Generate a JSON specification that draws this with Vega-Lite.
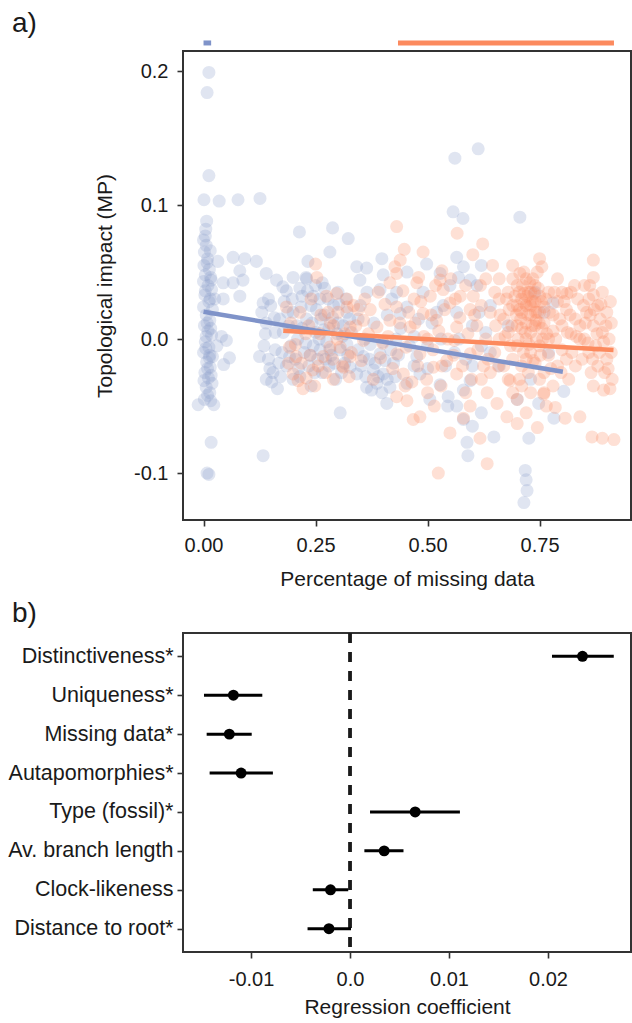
{
"$schema":"https://vega.github.io/schema/vega-lite/v6.json",
"padding":{"left":6,"top":9,"right":0,"bottom":0},
"spacing":8,
"config":{"font":"Liberation Sans","view":{"stroke":"#333333","strokeWidth":2},
"axis":{"grid":false,"domain":false,"tickColor":"#333333","tickWidth":1.6,"tickSize":6,"labelFontSize":20,"labelColor":"#1a1a1a","titleFontSize":21,"titleFontWeight":"normal","titleColor":"#1a1a1a","labelPadding":5},
"title":{"fontSize":28,"fontWeight":"normal","color":"#1a1a1a","anchor":"start","frame":"group"}},
"datasets":{
"pts":[
{"g":"A","x":0.012,"y":0.199},{"g":"A","x":0.008,"y":0.184},{"g":"A","x":0.012,"y":0.122},{"g":"A","x":0.001,"y":0.104},{"g":"A","x":0.007,"y":0.088},{"g":"A","x":0.004,"y":0.077},{"g":"A","x":0.0,"y":0.074},{"g":"A","x":0.006,"y":0.070},{"g":"A","x":0.002,"y":0.065},{"g":"A","x":0.009,"y":0.060},{"g":"A","x":0.001,"y":0.055},{"g":"A","x":0.013,"y":0.052},{"g":"A","x":0.004,"y":0.048},{"g":"A","x":0.0,"y":0.043},{"g":"A","x":0.01,"y":0.040},{"g":"A","x":0.018,"y":0.037},{"g":"A","x":0.003,"y":0.033},{"g":"A","x":0.012,"y":0.028},{"g":"A","x":0.0,"y":0.024},{"g":"A","x":0.02,"y":0.022},{"g":"A","x":0.006,"y":0.018},{"g":"A","x":0.014,"y":0.014},{"g":"A","x":0.002,"y":0.010},{"g":"A","x":0.01,"y":0.006},{"g":"A","x":0.018,"y":0.003},{"g":"A","x":0.004,"y":-0.002},{"g":"A","x":0.012,"y":-0.006},{"g":"A","x":0.0,"y":-0.010},{"g":"A","x":0.02,"y":-0.013},{"g":"A","x":0.007,"y":-0.017},{"g":"A","x":0.015,"y":-0.021},{"g":"A","x":0.003,"y":-0.025},{"g":"A","x":0.011,"y":-0.029},{"g":"A","x":0.019,"y":-0.033},{"g":"A","x":0.006,"y":-0.036},{"g":"A","x":0.014,"y":-0.040},{"g":"A","x":0.002,"y":-0.045},{"g":"A","x":0.016,"y":-0.046},{"g":"A","x":-0.012,"y":-0.049},{"g":"A","x":0.023,"y":-0.049},{"g":"A","x":0.017,"y":-0.077},{"g":"A","x":0.008,"y":-0.100},{"g":"A","x":0.012,"y":-0.101},{"g":"A","x":0.017,"y":0.044},{"g":"A","x":0.04,"y":0.002},{"g":"A","x":0.045,"y":-0.019},{"g":"A","x":0.025,"y":0.030},{"g":"A","x":0.03,"y":-0.005},
{"g":"A","x":0.005,"y":0.082},{"g":"A","x":0.015,"y":0.066},{"g":"A","x":0.008,"y":0.057},{"g":"A","x":0.016,"y":0.046},{"g":"A","x":0.004,"y":0.036},{"g":"A","x":0.015,"y":0.030},{"g":"A","x":0.008,"y":0.012},{"g":"A","x":0.016,"y":0.008},{"g":"A","x":0.005,"y":-0.007},{"g":"A","x":0.013,"y":-0.014},{"g":"A","x":0.009,"y":-0.022},{"g":"A","x":0.017,"y":-0.027},{"g":"A","x":0.001,"y":-0.031},{"g":"A","x":0.009,"y":-0.042},{"g":"A","x":0.014,"y":-0.012},{"g":"A","x":0.006,"y":0.002},
{"g":"A","x":0.035,"y":0.103},{"g":"A","x":0.077,"y":0.104},{"g":"A","x":0.126,"y":0.105},{"g":"A","x":0.214,"y":0.080},{"g":"A","x":0.032,"y":0.058},{"g":"A","x":0.066,"y":0.061},{"g":"A","x":0.092,"y":0.060},{"g":"A","x":0.118,"y":0.058},{"g":"A","x":0.140,"y":0.049},{"g":"A","x":0.081,"y":0.051},{"g":"A","x":0.066,"y":0.042},{"g":"A","x":0.088,"y":0.044},{"g":"A","x":0.044,"y":0.030},{"g":"A","x":0.081,"y":0.032},{"g":"A","x":0.051,"y":-0.001},{"g":"A","x":0.058,"y":-0.014},{"g":"A","x":0.125,"y":-0.013},{"g":"A","x":0.133,"y":0.027},{"g":"A","x":0.163,"y":0.044},{"g":"A","x":0.177,"y":0.039},{"g":"A","x":0.200,"y":0.046},{"g":"A","x":0.229,"y":0.046},{"g":"A","x":0.233,"y":0.058},{"g":"A","x":0.288,"y":0.083},{"g":"A","x":0.282,"y":0.065},{"g":"A","x":0.044,"y":0.042},{"g":"A","x":0.133,"y":-0.087},{"g":"A","x":0.323,"y":0.075},{"g":"A","x":0.305,"y":-0.055},
{"g":"A","x":0.13,"y":0.020},{"g":"A","x":0.14,"y":0.012},{"g":"A","x":0.15,"y":0.025},{"g":"A","x":0.16,"y":0.005},{"g":"A","x":0.135,"y":-0.005},{"g":"A","x":0.145,"y":-0.015},{"g":"A","x":0.155,"y":-0.025},{"g":"A","x":0.14,"y":-0.030},{"g":"A","x":0.165,"y":-0.037},{"g":"A","x":0.17,"y":0.015},{"g":"A","x":0.18,"y":0.028},{"g":"A","x":0.19,"y":0.010},{"g":"A","x":0.2,"y":0.020},{"g":"A","x":0.21,"y":0.000},{"g":"A","x":0.22,"y":0.032},{"g":"A","x":0.23,"y":0.015},{"g":"A","x":0.24,"y":0.025},{"g":"A","x":0.25,"y":0.005},{"g":"A","x":0.26,"y":0.030},{"g":"A","x":0.27,"y":0.018},{"g":"A","x":0.28,"y":0.008},{"g":"A","x":0.29,"y":0.025},{"g":"A","x":0.3,"y":0.012},{"g":"A","x":0.31,"y":0.002},{"g":"A","x":0.32,"y":0.020},{"g":"A","x":0.175,"y":-0.010},{"g":"A","x":0.185,"y":-0.020},{"g":"A","x":0.195,"y":-0.005},{"g":"A","x":0.205,"y":-0.015},{"g":"A","x":0.215,"y":-0.028},{"g":"A","x":0.225,"y":-0.010},{"g":"A","x":0.235,"y":-0.020},{"g":"A","x":0.245,"y":-0.005},{"g":"A","x":0.255,"y":-0.015},{"g":"A","x":0.265,"y":-0.025},{"g":"A","x":0.275,"y":-0.002},{"g":"A","x":0.285,"y":-0.012},{"g":"A","x":0.295,"y":-0.030},{"g":"A","x":0.305,"y":-0.008},{"g":"A","x":0.315,"y":-0.018},{"g":"A","x":0.25,"y":0.040},{"g":"A","x":0.27,"y":0.038},{"g":"A","x":0.23,"y":0.045},{"g":"A","x":0.3,"y":0.035},{"g":"A","x":0.2,"y":-0.030},{"g":"A","x":0.24,"y":-0.035},{"g":"A","x":0.26,"y":-0.008},{"g":"A","x":0.22,"y":0.008},{"g":"A","x":0.28,"y":-0.020},{"g":"A","x":0.32,"y":-0.004},
{"g":"A","x":0.138,"y":0.004},{"g":"A","x":0.148,"y":-0.022},{"g":"A","x":0.152,"y":-0.032},{"g":"A","x":0.158,"y":0.016},{"g":"A","x":0.168,"y":-0.018},{"g":"A","x":0.172,"y":-0.028},{"g":"A","x":0.178,"y":0.005},{"g":"A","x":0.188,"y":0.020},{"g":"A","x":0.192,"y":-0.013},{"g":"A","x":0.198,"y":0.030},{"g":"A","x":0.208,"y":0.010},{"g":"A","x":0.212,"y":-0.022},{"g":"A","x":0.218,"y":0.024},{"g":"A","x":0.228,"y":-0.003},{"g":"A","x":0.232,"y":0.036},{"g":"A","x":0.238,"y":-0.012},{"g":"A","x":0.242,"y":0.012},{"g":"A","x":0.248,"y":-0.025},{"g":"A","x":0.252,"y":0.022},{"g":"A","x":0.258,"y":0.000},{"g":"A","x":0.262,"y":0.015},{"g":"A","x":0.268,"y":0.007},{"g":"A","x":0.272,"y":-0.015},{"g":"A","x":0.278,"y":0.030},{"g":"A","x":0.282,"y":-0.008},{"g":"A","x":0.288,"y":0.016},{"g":"A","x":0.292,"y":-0.018},{"g":"A","x":0.298,"y":0.004},{"g":"A","x":0.302,"y":0.026},{"g":"A","x":0.308,"y":-0.025},{"g":"A","x":0.312,"y":0.010},{"g":"A","x":0.318,"y":0.030},{"g":"A","x":0.322,"y":-0.012},{"g":"A","x":0.326,"y":0.015},{"g":"A","x":0.265,"y":0.042},{"g":"A","x":0.245,"y":0.032},{"g":"A","x":0.215,"y":0.038},{"g":"A","x":0.185,"y":0.036},{"g":"A","x":0.16,"y":-0.008},{"g":"A","x":0.145,"y":0.03},
{"g":"A","x":0.342,"y":0.054},{"g":"A","x":0.364,"y":0.053},{"g":"A","x":0.349,"y":0.044},{"g":"A","x":0.398,"y":0.060},{"g":"A","x":0.401,"y":0.048},{"g":"A","x":0.431,"y":0.035},{"g":"A","x":0.454,"y":0.050},{"g":"A","x":0.394,"y":0.037},{"g":"A","x":0.498,"y":0.056},{"g":"A","x":0.528,"y":0.049},{"g":"A","x":0.565,"y":0.061},{"g":"A","x":0.58,"y":0.054},{"g":"A","x":0.569,"y":0.046},{"g":"A","x":0.595,"y":0.044},{"g":"A","x":0.454,"y":0.024},{"g":"A","x":0.439,"y":0.019},
{"g":"A","x":0.357,"y":-0.013},{"g":"A","x":0.379,"y":-0.023},{"g":"A","x":0.401,"y":-0.026},{"g":"A","x":0.364,"y":-0.036},{"g":"A","x":0.387,"y":-0.033},{"g":"A","x":0.416,"y":-0.036},{"g":"A","x":0.342,"y":-0.026},{"g":"A","x":0.327,"y":-0.021},{"g":"A","x":0.409,"y":-0.048},{"g":"A","x":0.424,"y":-0.018},{"g":"A","x":0.37,"y":-0.015},{"g":"A","x":0.394,"y":-0.011},{"g":"A","x":0.454,"y":-0.033},{"g":"A","x":0.483,"y":-0.026},{"g":"A","x":0.50,"y":-0.022},{"g":"A","x":0.528,"y":-0.034},{"g":"A","x":0.546,"y":-0.043},{"g":"A","x":0.58,"y":-0.038},{"g":"A","x":0.595,"y":-0.031},{"g":"A","x":0.476,"y":-0.013},{"g":"A","x":0.47,"y":-0.02},
{"g":"A","x":0.345,"y":-0.008},{"g":"A","x":0.352,"y":-0.02},{"g":"A","x":0.362,"y":-0.028},{"g":"A","x":0.372,"y":-0.004},{"g":"A","x":0.375,"y":-0.038},{"g":"A","x":0.383,"y":-0.018},{"g":"A","x":0.39,"y":-0.028},{"g":"A","x":0.398,"y":-0.04},{"g":"A","x":0.405,"y":-0.016},{"g":"A","x":0.41,"y":-0.03},{"g":"A","x":0.418,"y":-0.008},{"g":"A","x":0.428,"y":-0.028},{"g":"A","x":0.435,"y":-0.012},{"g":"A","x":0.38,"y":0.012},{"g":"A","x":0.41,"y":0.018},{"g":"A","x":0.345,"y":0.015},{"g":"A","x":0.365,"y":0.035},{"g":"A","x":0.43,"y":0.0},
{"g":"A","x":0.33,"y":0.005},{"g":"A","x":0.36,"y":0.0},{"g":"A","x":0.4,"y":-0.002},{"g":"A","x":0.44,"y":0.008},{"g":"A","x":0.47,"y":0.002},{"g":"A","x":0.5,"y":-0.005},{"g":"A","x":0.53,"y":0.0},{"g":"A","x":0.56,"y":-0.01},{"g":"A","x":0.6,"y":0.01},{"g":"A","x":0.62,"y":-0.005},{"g":"A","x":0.48,"y":0.015},{"g":"A","x":0.52,"y":0.02},{"g":"A","x":0.35,"y":0.025},{"g":"A","x":0.42,"y":0.03},
{"g":"A","x":0.49,"y":0.035},{"g":"A","x":0.51,"y":0.012},{"g":"A","x":0.535,"y":0.025},{"g":"A","x":0.565,"y":0.02},{"g":"A","x":0.585,"y":-0.015},{"g":"A","x":0.615,"y":0.02},{"g":"A","x":0.505,"y":-0.045},{"g":"A","x":0.565,"y":-0.05},{"g":"A","x":0.62,"y":0.055},
{"g":"A","x":0.557,"y":0.095},{"g":"A","x":0.579,"y":0.090},{"g":"A","x":0.561,"y":0.135},{"g":"A","x":0.613,"y":0.142},{"g":"A","x":0.46,"y":-0.005},{"g":"A","x":0.54,"y":-0.02},{"g":"A","x":0.57,"y":0.0},{"g":"A","x":0.55,"y":0.04},{"g":"A","x":0.61,"y":0.04},{"g":"A","x":0.63,"y":0.005},{"g":"A","x":0.64,"y":-0.01},{"g":"A","x":0.6,"y":-0.02},
{"g":"A","x":0.706,"y":0.091},{"g":"A","x":0.78,"y":0.027},{"g":"A","x":0.76,"y":0.02},{"g":"A","x":0.62,"y":-0.055},{"g":"A","x":0.648,"y":-0.073},{"g":"A","x":0.726,"y":-0.074},{"g":"A","x":0.718,"y":-0.098},{"g":"A","x":0.722,"y":-0.113},{"g":"A","x":0.715,"y":-0.122},{"g":"A","x":0.72,"y":-0.105},{"g":"A","x":0.782,"y":-0.059},{"g":"A","x":0.804,"y":-0.039},{"g":"A","x":0.748,"y":-0.048},{"g":"A","x":0.70,"y":-0.045},{"g":"A","x":0.68,"y":0.01},{"g":"A","x":0.74,"y":0.035},{"g":"A","x":0.64,"y":0.025},{"g":"A","x":0.66,"y":-0.02},{"g":"A","x":0.77,"y":-0.01},{"g":"A","x":0.58,"y":-0.06},{"g":"A","x":0.59,"y":-0.087},{"g":"A","x":0.588,"y":-0.077},{"g":"A","x":0.60,"y":-0.065},{"g":"A","x":0.545,"y":-0.05},{"g":"A","x":0.73,"y":-0.03},
{"g":"B","x":0.431,"y":0.084},{"g":"B","x":0.448,"y":0.067},{"g":"B","x":0.49,"y":0.065},{"g":"B","x":0.566,"y":0.079},{"g":"B","x":0.623,"y":0.071},{"g":"B","x":0.601,"y":0.063},{"g":"B","x":0.706,"y":0.049},{"g":"B","x":0.755,"y":0.054},{"g":"B","x":0.87,"y":0.059},{"g":"B","x":0.87,"y":0.046},{"g":"B","x":0.87,"y":0.033},{"g":"B","x":0.532,"y":0.051},{"g":"B","x":0.427,"y":0.054},{"g":"B","x":0.48,"y":0.046},{"g":"B","x":0.25,"y":0.056},{"g":"B","x":0.253,"y":0.046},
{"g":"B","x":0.185,"y":0.024},{"g":"B","x":0.192,"y":-0.006},{"g":"B","x":0.207,"y":-0.013},{"g":"B","x":0.2,"y":-0.026},{"g":"B","x":0.211,"y":-0.031},{"g":"B","x":0.229,"y":-0.029},{"g":"B","x":0.244,"y":-0.023},{"g":"B","x":0.222,"y":-0.037},{"g":"B","x":0.267,"y":-0.013},{"g":"B","x":0.282,"y":-0.006},{"g":"B","x":0.26,"y":0.004},{"g":"B","x":0.274,"y":0.032},{"g":"B","x":0.3,"y":0.02},{"g":"B","x":0.31,"y":-0.02},{"g":"B","x":0.32,"y":0.03},{"g":"B","x":0.29,"y":-0.03},{"g":"B","x":0.235,"y":0.01},{"g":"B","x":0.215,"y":0.02},{"g":"B","x":0.33,"y":-0.01},{"g":"B","x":0.34,"y":0.01},{"g":"B","x":0.29,"y":0.01},
{"g":"B","x":0.195,"y":0.012},{"g":"B","x":0.205,"y":-0.004},{"g":"B","x":0.218,"y":-0.018},{"g":"B","x":0.228,"y":0.004},{"g":"B","x":0.238,"y":-0.012},{"g":"B","x":0.248,"y":-0.035},{"g":"B","x":0.256,"y":-0.02},{"g":"B","x":0.262,"y":0.018},{"g":"B","x":0.272,"y":-0.025},{"g":"B","x":0.278,"y":0.02},{"g":"B","x":0.288,"y":-0.015},{"g":"B","x":0.298,"y":0.0},{"g":"B","x":0.315,"y":0.004},{"g":"B","x":0.325,"y":-0.028},{"g":"B","x":0.335,"y":0.025},{"g":"B","x":0.24,"y":0.03},{"g":"B","x":0.19,"y":-0.018},
{"g":"B","x":0.297,"y":0.034},{"g":"B","x":0.32,"y":0.024},{"g":"B","x":0.283,"y":0.012},{"g":"B","x":0.327,"y":0.009},{"g":"B","x":0.357,"y":0.014},{"g":"B","x":0.387,"y":0.009},{"g":"B","x":0.416,"y":0.014},{"g":"B","x":0.431,"y":0.024},{"g":"B","x":0.461,"y":0.009},{"g":"B","x":0.49,"y":0.019},{"g":"B","x":0.506,"y":0.032},{"g":"B","x":0.535,"y":0.037},{"g":"B","x":0.55,"y":0.027},{"g":"B","x":0.573,"y":0.032},{"g":"B","x":0.595,"y":0.022},{"g":"B","x":0.602,"y":0.032},{"g":"B","x":0.52,"y":0.014},{"g":"B","x":0.565,"y":0.009},{"g":"B","x":0.528,"y":0.044},{"g":"B","x":0.476,"y":0.042},{"g":"B","x":0.431,"y":0.049},{"g":"B","x":0.439,"y":0.059},{"g":"B","x":0.416,"y":0.042},{"g":"B","x":0.305,"y":-0.006},{"g":"B","x":0.327,"y":-0.013},{"g":"B","x":0.312,"y":-0.021},{"g":"B","x":0.431,"y":-0.011},{"g":"B","x":0.446,"y":-0.026},{"g":"B","x":0.483,"y":-0.011},{"g":"B","x":0.513,"y":-0.021},{"g":"B","x":0.543,"y":-0.016},{"g":"B","x":0.565,"y":-0.026},{"g":"B","x":0.595,"y":-0.011},{"g":"B","x":0.454,"y":-0.046},{"g":"B","x":0.468,"y":-0.060},{"g":"B","x":0.483,"y":-0.058},{"g":"B","x":0.55,"y":-0.07},{"g":"B","x":0.524,"y":-0.1},{"g":"B","x":0.58,"y":-0.059},{"g":"B","x":0.595,"y":-0.05},{"g":"B","x":0.431,"y":-0.043},{"g":"B","x":0.357,"y":-0.001},{"g":"B","x":0.4,"y":-0.003},{"g":"B","x":0.56,"y":-0.001},{"g":"B","x":0.379,"y":-0.03},{"g":"B","x":0.36,"y":0.03},{"g":"B","x":0.39,"y":0.035},{"g":"B","x":0.47,"y":0.03},{"g":"B","x":0.5,"y":0.0},{"g":"B","x":0.53,"y":-0.035},{"g":"B","x":0.5,"y":-0.04},
{"g":"B","x":0.345,"y":0.022},{"g":"B","x":0.352,"y":-0.016},{"g":"B","x":0.368,"y":0.004},{"g":"B","x":0.372,"y":0.022},{"g":"B","x":0.395,"y":-0.014},{"g":"B","x":0.405,"y":0.026},{"g":"B","x":0.412,"y":0.002},{"g":"B","x":0.422,"y":-0.022},{"g":"B","x":0.438,"y":0.012},{"g":"B","x":0.445,"y":0.036},{"g":"B","x":0.452,"y":-0.006},{"g":"B","x":0.458,"y":0.02},{"g":"B","x":0.465,"y":-0.032},{"g":"B","x":0.472,"y":0.012},{"g":"B","x":0.478,"y":-0.02},{"g":"B","x":0.485,"y":0.028},{"g":"B","x":0.492,"y":0.002},{"g":"B","x":0.498,"y":-0.03},{"g":"B","x":0.508,"y":0.018},{"g":"B","x":0.512,"y":-0.008},{"g":"B","x":0.518,"y":0.04},{"g":"B","x":0.525,"y":0.006},{"g":"B","x":0.532,"y":-0.02},{"g":"B","x":0.538,"y":0.022},{"g":"B","x":0.545,"y":0.0},{"g":"B","x":0.552,"y":0.045},{"g":"B","x":0.558,"y":-0.012},{"g":"B","x":0.562,"y":0.03},{"g":"B","x":0.572,"y":0.016},{"g":"B","x":0.578,"y":-0.02},{"g":"B","x":0.585,"y":0.04},{"g":"B","x":0.59,"y":0.004},{"g":"B","x":0.598,"y":-0.03},{"g":"B","x":0.605,"y":0.018},{"g":"B","x":0.612,"y":-0.008},{"g":"B","x":0.618,"y":0.04},{"g":"B","x":0.625,"y":-0.02},{"g":"B","x":0.585,"y":-0.04},{"g":"B","x":0.515,"y":-0.05},{"g":"B","x":0.45,"y":-0.035},
{"g":"B","x":0.64,"y":0.02},{"g":"B","x":0.65,"y":-0.01},{"g":"B","x":0.66,"y":0.03},{"g":"B","x":0.66,"y":0.0},{"g":"B","x":0.67,"y":-0.02},{"g":"B","x":0.67,"y":0.015},{"g":"B","x":0.68,"y":0.035},{"g":"B","x":0.68,"y":0.005},{"g":"B","x":0.69,"y":-0.015},{"g":"B","x":0.69,"y":0.025},{"g":"B","x":0.7,"y":0.04},{"g":"B","x":0.7,"y":0.01},{"g":"B","x":0.7,"y":-0.005},{"g":"B","x":0.71,"y":0.03},{"g":"B","x":0.71,"y":-0.02},{"g":"B","x":0.71,"y":0.02},{"g":"B","x":0.72,"y":0.045},{"g":"B","x":0.72,"y":0.0},{"g":"B","x":0.72,"y":0.025},{"g":"B","x":0.72,"y":0.012},{"g":"B","x":0.73,"y":0.035},{"g":"B","x":0.73,"y":-0.01},{"g":"B","x":0.73,"y":0.018},{"g":"B","x":0.73,"y":0.005},{"g":"B","x":0.74,"y":0.028},{"g":"B","x":0.74,"y":-0.018},{"g":"B","x":0.74,"y":0.04},{"g":"B","x":0.74,"y":0.01},{"g":"B","x":0.75,"y":0.02},{"g":"B","x":0.75,"y":-0.005},{"g":"B","x":0.75,"y":0.032},{"g":"B","x":0.76,"y":0.012},{"g":"B","x":0.76,"y":-0.025},{"g":"B","x":0.76,"y":0.024},{"g":"B","x":0.77,"y":0.0},{"g":"B","x":0.77,"y":0.035},{"g":"B","x":0.77,"y":-0.012},{"g":"B","x":0.78,"y":0.018},{"g":"B","x":0.78,"y":0.006},{"g":"B","x":0.79,"y":-0.02},{"g":"B","x":0.79,"y":0.028},{"g":"B","x":0.8,"y":0.01},{"g":"B","x":0.8,"y":-0.008},{"g":"B","x":0.81,"y":0.022},{"g":"B","x":0.81,"y":-0.015},{"g":"B","x":0.82,"y":0.004},{"g":"B","x":0.83,"y":0.015},{"g":"B","x":0.83,"y":-0.02},{"g":"B","x":0.69,"y":0.045},{"g":"B","x":0.715,"y":0.05},{"g":"B","x":0.705,"y":-0.03},{"g":"B","x":0.725,"y":-0.025},{"g":"B","x":0.745,"y":0.05},{"g":"B","x":0.68,"y":-0.03},{"g":"B","x":0.66,"y":0.045},{"g":"B","x":0.65,"y":0.035},{"g":"B","x":0.63,"y":0.0},{"g":"B","x":0.62,"y":0.025},{"g":"B","x":0.61,"y":0.01},{"g":"B","x":0.635,"y":-0.015},{"g":"B","x":0.62,"y":-0.03},{"g":"B","x":0.64,"y":-0.025},{"g":"B","x":0.8,"y":0.035},{"g":"B","x":0.79,"y":0.045},{"g":"B","x":0.82,"y":0.035},{"g":"B","x":0.835,"y":0.03},{"g":"B","x":0.815,"y":-0.03},{"g":"B","x":0.78,"y":-0.035},{"g":"B","x":0.76,"y":-0.04},{"g":"B","x":0.73,"y":-0.04},{"g":"B","x":0.7,"y":-0.045},{"g":"B","x":0.75,"y":-0.03},{"g":"B","x":0.7,"y":0.025},{"g":"B","x":0.735,"y":0.028},{"g":"B","x":0.71,"y":0.008},{"g":"B","x":0.755,"y":0.008},{"g":"B","x":0.725,"y":0.035},{"g":"B","x":0.745,"y":0.02},
{"g":"B","x":0.695,"y":0.032},{"g":"B","x":0.698,"y":0.018},{"g":"B","x":0.702,"y":0.0},{"g":"B","x":0.705,"y":0.035},{"g":"B","x":0.708,"y":0.015},{"g":"B","x":0.712,"y":0.04},{"g":"B","x":0.714,"y":-0.01},{"g":"B","x":0.716,"y":0.027},{"g":"B","x":0.718,"y":0.005},{"g":"B","x":0.722,"y":0.032},{"g":"B","x":0.724,"y":0.018},{"g":"B","x":0.726,"y":-0.004},{"g":"B","x":0.728,"y":0.042},{"g":"B","x":0.731,"y":0.025},{"g":"B","x":0.733,"y":0.01},{"g":"B","x":0.736,"y":-0.016},{"g":"B","x":0.738,"y":0.034},{"g":"B","x":0.741,"y":0.02},{"g":"B","x":0.743,"y":0.0},{"g":"B","x":0.747,"y":0.038},{"g":"B","x":0.749,"y":0.012},{"g":"B","x":0.752,"y":-0.012},{"g":"B","x":0.754,"y":0.028},{"g":"B","x":0.757,"y":0.0},{"g":"B","x":0.688,"y":0.01},{"g":"B","x":0.685,"y":-0.005},{"g":"B","x":0.682,"y":0.022},{"g":"B","x":0.676,"y":0.03},{"g":"B","x":0.673,"y":0.002},{"g":"B","x":0.662,"y":0.018},{"g":"B","x":0.658,"y":-0.02},{"g":"B","x":0.652,"y":0.01},{"g":"B","x":0.764,"y":0.03},{"g":"B","x":0.766,"y":0.004},{"g":"B","x":0.772,"y":0.02},{"g":"B","x":0.775,"y":-0.022},{"g":"B","x":0.783,"y":0.035},{"g":"B","x":0.786,"y":0.0},{"g":"B","x":0.795,"y":0.015},{"g":"B","x":0.798,"y":-0.025},{"g":"B","x":0.805,"y":0.028},{"g":"B","x":0.812,"y":0.005},{"g":"B","x":0.818,"y":0.018},{"g":"B","x":0.822,"y":-0.01},{"g":"B","x":0.828,"y":0.04},{"g":"B","x":0.832,"y":0.002},{"g":"B","x":0.72,"y":-0.015},{"g":"B","x":0.735,"y":0.045},{"g":"B","x":0.705,"y":0.022},{"g":"B","x":0.715,"y":0.034},{"g":"B","x":0.728,"y":0.026},{"g":"B","x":0.742,"y":0.014},{"g":"B","x":0.71,"y":-0.035},{"g":"B","x":0.69,"y":-0.04},{"g":"B","x":0.765,"y":-0.05},{"g":"B","x":0.72,"y":-0.055},{"g":"B","x":0.69,"y":0.055},{"g":"B","x":0.75,"y":0.06},{"g":"B","x":0.63,"y":0.045},{"g":"B","x":0.645,"y":0.055},
{"g":"B","x":0.633,"y":-0.040},{"g":"B","x":0.655,"y":-0.048},{"g":"B","x":0.684,"y":-0.031},{"g":"B","x":0.759,"y":-0.041},{"g":"B","x":0.677,"y":-0.058},{"g":"B","x":0.70,"y":-0.063},{"g":"B","x":0.745,"y":-0.066},{"g":"B","x":0.785,"y":-0.051},{"g":"B","x":0.807,"y":-0.059},{"g":"B","x":0.84,"y":-0.058},{"g":"B","x":0.617,"y":-0.074},{"g":"B","x":0.633,"y":-0.093},{"g":"B","x":0.907,"y":-0.037},{"g":"B","x":0.867,"y":-0.073},{"g":"B","x":0.89,"y":-0.074},{"g":"B","x":0.916,"y":-0.075},
{"g":"B","x":0.85,"y":0.0},{"g":"B","x":0.86,"y":-0.01},{"g":"B","x":0.87,"y":0.01},{"g":"B","x":0.88,"y":-0.02},{"g":"B","x":0.89,"y":0.005},{"g":"B","x":0.9,"y":-0.015},{"g":"B","x":0.855,"y":0.02},{"g":"B","x":0.875,"y":-0.005},{"g":"B","x":0.885,"y":0.015},{"g":"B","x":0.895,"y":-0.025},{"g":"B","x":0.905,"y":0.0},{"g":"B","x":0.865,"y":-0.025},{"g":"B","x":0.91,"y":-0.01},{"g":"B","x":0.88,"y":0.025},{"g":"B","x":0.86,"y":0.03},{"g":"B","x":0.84,"y":0.01},{"g":"B","x":0.845,"y":-0.015},{"g":"B","x":0.9,"y":0.02},{"g":"B","x":0.87,"y":-0.035},{"g":"B","x":0.89,"y":0.035},{"g":"B","x":0.85,"y":0.04},{"g":"B","x":0.91,"y":0.012},{"g":"B","x":0.811,"y":0.034},{"g":"B","x":0.84,"y":0.0},
{"g":"B","x":0.852,"y":0.012},{"g":"B","x":0.858,"y":-0.003},{"g":"B","x":0.863,"y":0.018},{"g":"B","x":0.868,"y":-0.015},{"g":"B","x":0.872,"y":0.022},{"g":"B","x":0.878,"y":0.004},{"g":"B","x":0.883,"y":-0.01},{"g":"B","x":0.887,"y":0.026},{"g":"B","x":0.893,"y":-0.002},{"g":"B","x":0.898,"y":0.01},{"g":"B","x":0.903,"y":-0.022},{"g":"B","x":0.908,"y":0.028},{"g":"B","x":0.862,"y":0.04},{"g":"B","x":0.848,"y":0.025},{"g":"B","x":0.893,"y":-0.038},{"g":"B","x":0.912,"y":-0.03}
],
"fits":[{"g":"A","x":0.0,"y":0.0204},{"g":"A","x":0.802,"y":-0.0244},{"g":"B","x":0.178,"y":0.0062},{"g":"B","x":0.915,"y":-0.0082}],
"ranges":[{"g":"A","lo":0.0,"hi":0.017,"y":0.221},{"g":"B","lo":0.434,"hi":0.916,"y":0.221}],
"coef":[
{"term":"Distinctiveness*","est":0.02348,"lo":0.0204,"hi":0.02664},
{"term":"Uniqueness*","est":-0.01178,"lo":-0.01475,"hi":-0.00886},
{"term":"Missing data*","est":-0.01219,"lo":-0.01448,"hi":-0.00993},
{"term":"Autapomorphies*","est":-0.0110,"lo":-0.01418,"hi":-0.00779},
{"term":"Type (fossil)*","est":0.00658,"lo":0.00202,"hi":0.0111},
{"term":"Av. branch length","est":0.00345,"lo":0.00145,"hi":0.0054},
{"term":"Clock-likeness","est":-0.00197,"lo":-0.00376,"hi":-0.00018},
{"term":"Distance to root*","est":-0.00213,"lo":-0.00429,"hi":0.0001}
]},
"vconcat":[
{"title":{"text":"a)","dx":-171,"offset":2},
"width":448,"height":469,
"layer":[
{"data":{"name":"pts"},"mark":{"type":"circle","size":170,"opacity":0.27},
"encoding":{
"x":{"field":"x","type":"quantitative","scale":{"domain":[-0.0458,0.954],"nice":false,"zero":false},"axis":{"title":"Percentage of missing data","values":[0,0.25,0.5,0.75],"format":".2f","labelPadding":9,"titlePadding":13}},
"y":{"field":"y","type":"quantitative","scale":{"domain":[-0.135,0.215],"nice":false,"zero":false},"axis":{"title":"Topological impact (MP)","values":[-0.1,0,0.1,0.2],"labelExpr":"replace(format(datum.value,'.1f'),'\u2212','-')","labelPadding":9,"titlePadding":18}},
"color":{"field":"g","type":"nominal","scale":{"domain":["A","B"],"range":["#8da0cb","#fc8d62"]},"legend":null}}},
{"data":{"name":"fits"},"mark":{"type":"line","strokeWidth":4.5},
"encoding":{"x":{"field":"x","type":"quantitative"},"y":{"field":"y","type":"quantitative"},"detail":{"field":"g"},
"stroke":{"field":"g","type":"nominal","scale":{"domain":["A","B"],"range":["#7f93c9","#fc8a5e"]},"legend":null}}},
{"data":{"name":"ranges"},"mark":{"type":"rule","strokeWidth":5},
"encoding":{"x":{"field":"lo","type":"quantitative"},"x2":{"field":"hi"},"y":{"field":"y","type":"quantitative"},
"stroke":{"field":"g","type":"nominal","scale":{"domain":["A","B"],"range":["#7f93c9","#fc8a5e"]},"legend":null}}}
]},
{"title":{"text":"b)","dx":-171,"offset":4},
"width":448,"height":319,
"data":{"name":"coef"},
"encoding":{"y":{"field":"term","type":"nominal","sort":null,"scale":{"type":"point","padding":0.6},"axis":{"title":null,"labelFontSize":21.5,"labelPadding":4}}},
"layer":[
{"mark":{"type":"rule","strokeDash":[10,9],"strokeWidth":2.5,"color":"#1a1a1a"},"encoding":{"x":{"datum":0,"type":"quantitative"},"y":null}},
{"mark":{"type":"rule","strokeWidth":3,"color":"#000000"},"encoding":{"x":{"field":"lo","type":"quantitative","scale":{"domain":[-0.01687,0.02838],"nice":false,"zero":false},"axis":{"title":"Regression coefficient","values":[-0.01,0,0.01,0.02],"labelExpr":"datum.value==0 ? '0.0' : replace(format(datum.value,'.2f'),'\u2212','-')","labelPadding":11,"titlePadding":7}},"x2":{"field":"hi"}}},
{"mark":{"type":"circle","size":120,"opacity":1,"color":"#000000"},"encoding":{"x":{"field":"est","type":"quantitative"}}}
]}
]
}
